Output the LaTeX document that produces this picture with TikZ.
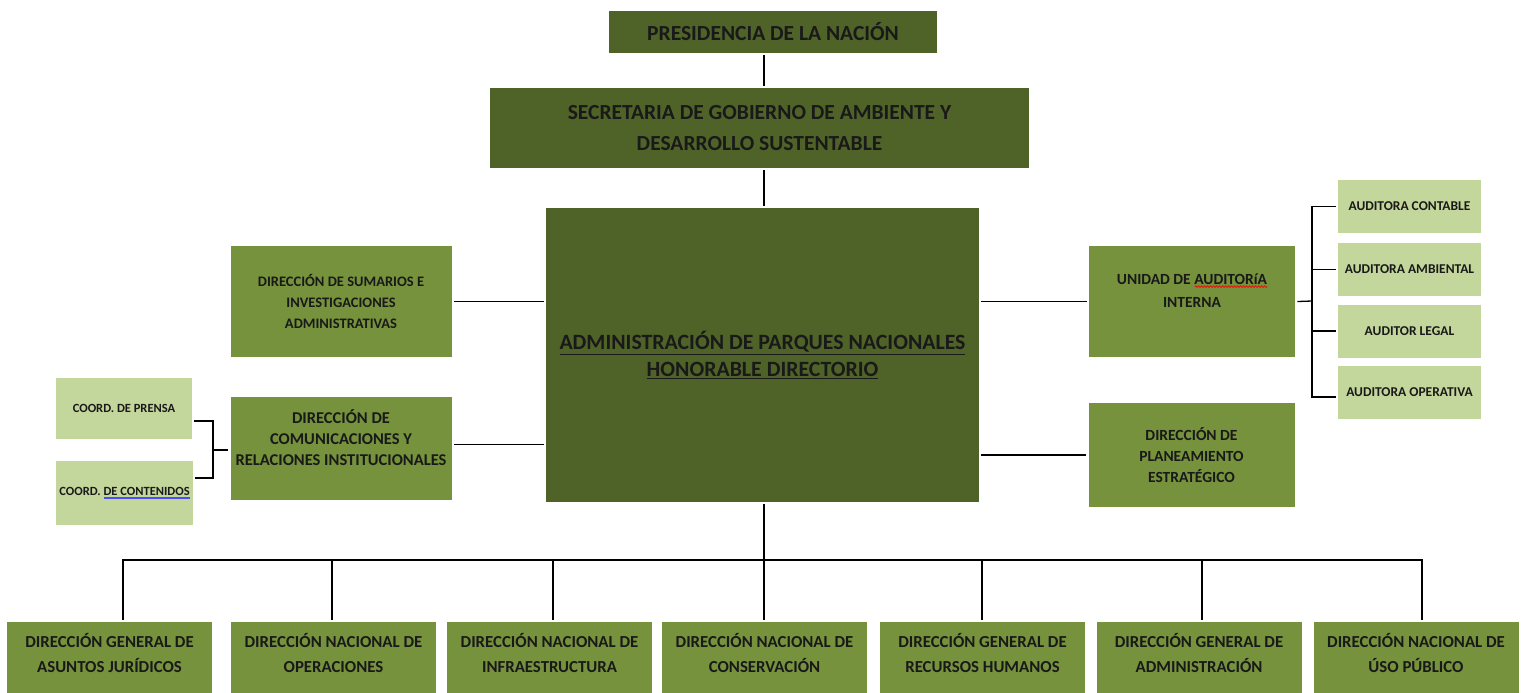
\documentclass[tikz,border=0pt]{standalone}
\usepackage{fontspec}
\setmainfont{Carlito}
\usetikzlibrary{decorations.pathmorphing}

\definecolor{darkolive}{HTML}{4F6228}
\definecolor{olive}{HTML}{76923C}
\definecolor{paleolive}{HTML}{C3D69B}

\newsavebox\wordbox
\newcommand\spellwave[1]{\sbox\wordbox{#1}\rlap{\raisebox{-3.5pt}{\tikz[x=1pt,y=1pt]\draw[red, line width=0.7pt, decorate, decoration={snake, amplitude=0.9pt, segment length=3pt}] (0,0) -- (\the\wd\wordbox,0);}}\usebox\wordbox}
\newcommand\grammarline[1]{\sbox\wordbox{#1}\rlap{\color{blue!70}\rule[-3pt]{\wd\wordbox}{1.2pt}}\usebox\wordbox}
\newcommand\lift[1]{\rule[-#1]{0pt}{0pt}}

\begin{document}
\begin{tikzpicture}[x=1pt,y=-1pt,
    headbox/.style={fill=darkolive, text=black!90, align=center, inner sep=0pt, outer sep=3pt,
      font=\bfseries\fontsize{21.5}{31}\selectfont},
    dirbox/.style={fill=olive, text=black!90, align=center, inner sep=0pt, outer sep=3pt,
      font=\bfseries\fontsize{14.5}{21}\selectfont},
    lowbox/.style={dirbox, minimum width=205, minimum height=71,
      font=\bfseries\fontsize{16.8}{25}\selectfont},
    subbox/.style={fill=paleolive, text=black!90, align=center, inner sep=0pt, outer sep=3pt,
      font=\bfseries\fontsize{13.5}{15}\selectfont},
    link/.style={draw=black, line width=1.3pt, line cap=rect}]
  \useasboundingbox (0,0) rectangle (1523,693);

  \node[headbox, minimum width=328, minimum height=42] (pres) at (773,32) {PRESIDENCIA DE LA NACIÓN};
  \node[headbox, minimum width=539, minimum height=80] (sec) at (759.5,128) {SECRETARIA DE GOBIERNO DE AMBIENTE Y\\DESARROLLO SUSTENTABLE};
  \node[headbox, minimum width=433, minimum height=294, font=\bfseries\fontsize{21.8}{27}\selectfont] (apn) at (762.5,355)
    {\underline{ADMINISTRACIÓN DE PARQUES NACIONALES}\\\underline{HONORABLE DIRECTORIO}};

  \node[dirbox, minimum width=221, minimum height=111] (sum) at (341,301.5) {DIRECCIÓN DE SUMARIOS E\\INVESTIGACIONES\\ADMINISTRATIVAS};
  \node[dirbox, minimum width=221, minimum height=103, font=\bfseries\fontsize{16.5}{21}\selectfont] (com) at (341,448.5)
    {DIRECCIÓN DE\\COMUNICACIONES Y\\RELACIONES INSTITUCIONALES\lift{22pt}};
  \node[subbox, minimum width=136, minimum height=61, font=\bfseries\fontsize{12.5}{15}\selectfont] (prensa) at (124,408.5) {COORD. DE PRENSA};
  \node[subbox, minimum width=137, minimum height=64, font=\bfseries\fontsize{12.5}{15}\selectfont] (cont) at (124.5,493) {COORD. \grammarline{DE CONTENIDOS}};

  \node[dirbox, minimum width=206, minimum height=111, font=\bfseries\fontsize{15.5}{23}\selectfont] (unid) at (1192,301.5)
    {UNIDAD DE \spellwave{AUDITORíA}\\INTERNA\lift{22pt}};
  \node[dirbox, minimum width=206, minimum height=104, font=\bfseries\fontsize{15.5}{21}\selectfont] (plan) at (1191.5,455)
    {DIRECCIÓN DE\\PLANEAMIENTO\\ESTRATÉGICO};
  \node[subbox, minimum width=143, minimum height=53] (aud1) at (1409.5,206.5) {AUDITORA CONTABLE};
  \node[subbox, minimum width=143, minimum height=53] (aud2) at (1409.5,269.5) {AUDITORA AMBIENTAL};
  \node[subbox, minimum width=143, minimum height=53] (aud3) at (1409.5,331) {AUDITOR LEGAL};
  \node[subbox, minimum width=143, minimum height=53] (aud4) at (1409.5,392) {AUDITORA OPERATIVA};

  \node[lowbox] (dgaj) at (109.5,657.5) {DIRECCIÓN GENERAL DE\\ASUNTOS JURÍDICOS\lift{10pt}};
  \node[lowbox] (dno) at (333.5,657.5) {DIRECCIÓN NACIONAL DE\\OPERACIONES\lift{10pt}};
  \node[lowbox] (dni) at (549.5,657.5) {DIRECCIÓN NACIONAL DE\\INFRAESTRUCTURA\lift{10pt}};
  \node[lowbox] (dnc) at (764.5,657.5) {DIRECCIÓN NACIONAL DE\\CONSERVACIÓN\lift{10pt}};
  \node[lowbox] (dgrh) at (982.5,657.5) {DIRECCIÓN GENERAL DE\\RECURSOS HUMANOS\lift{10pt}};
  \node[lowbox] (dga) at (1199,657.5) {DIRECCIÓN GENERAL DE\\ADMINISTRACIÓN\lift{10pt}};
  \node[lowbox] (dup) at (1416,657.5) {DIRECCIÓN NACIONAL DE\\ÚSO PÚBLICO\lift{10pt}};

  \coordinate (spine) at (764,0);
  \coordinate (bus) at (764,560);
  \coordinate (lk) at (213,450);
  \coordinate (rk) at (1312,301);

  \draw[link] (spine |- pres.south) -- (spine |- sec.north);
  \draw[link] (spine |- sec.south) -- (spine |- apn.north);
  \draw[link] (spine |- apn.south) -- (bus);
  \draw[link] (sum.east) -- (sum.east -| apn.west);
  \draw[link] ([yshift=4]com.east) -- ([yshift=4]com.east -| apn.west);
  \draw[link] (unid.east -| apn.east) -- (unid.west);
  \draw[link] (plan.west -| apn.east) -- (plan.west);

  % coordinaciones
  \draw[link] ([yshift=-12.5]prensa.east) -| (lk) |- ([yshift=15]cont.east);
  \draw[link] (lk) -- (lk -| com.west);

  % auditorias
  \draw[link] (unid.east) -- (rk);
  \draw[link] (rk |- aud1.west) -- ([yshift=-5]rk |- aud4.west);
  \foreach \a in {aud1,aud2,aud3}
    \draw[link] (rk |- \a.west) -- (\a.west);
  \draw[link] ([yshift=-5]rk |- aud4.west) -- ([yshift=-5]aud4.west);

  % direcciones
  \draw[link] ([xshift=13.5]dgaj.north |- bus) -- ([xshift=6]dup.north |- bus);
  \foreach \b/\dx in {dgaj/13.5, dno/-1.5, dni/3.5, dnc/-0.5, dgrh/-0.5, dga/3, dup/6}
    \draw[link] ([xshift=\dx]\b.north |- bus) -- ([xshift=\dx]\b.north);
\end{tikzpicture}
\end{document}
